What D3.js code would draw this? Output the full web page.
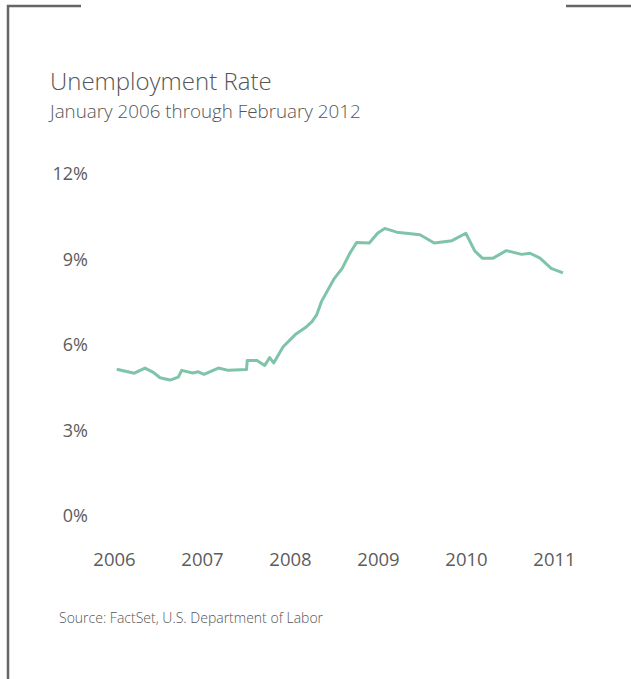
<!DOCTYPE html>
<html lang="en">
<head>
    <title>Unemployment Rate</title>
    <meta charset="UTF-8">
    <script src="https://d3js.org/d3.v7.min.js"></script>
    <style>
        body {
            margin: 0;
            padding: 0;
            background: #fff;
        }

        #chart text {
            font-family: "Open Sans", "Noto Sans", sans-serif;
            fill: #555;
        }
    </style>
</head>
<body>
<svg id="chart" width="631" height="679" xmlns="http://www.w3.org/2000/svg"></svg>
<script>
    // decimal year of each vertex of the line
    var dates = [
        2006.031, 2006.231, 2006.352, 2006.447, 2006.523, 2006.636, 2006.731, 2006.769,
        2006.894, 2006.958, 2007.023, 2007.185, 2007.299, 2007.506, 2007.514, 2007.625,
        2007.713, 2007.769, 2007.815, 2007.920, 2008.068, 2008.176, 2008.250, 2008.303,
        2008.360, 2008.498, 2008.593, 2008.682, 2008.758, 2008.901, 2008.998, 2009.076,
        2009.213, 2009.477, 2009.639, 2009.841, 2009.998, 2010.099, 2010.188, 2010.303,
        2010.458, 2010.633, 2010.727, 2010.841, 2010.968, 2011.102
    ];
    // unemployment rate, percent
    var rates = [
        5.15, 5.01, 5.19, 5.04, 4.85, 4.77, 4.87, 5.11,
        5.02, 5.06, 4.97, 5.19, 5.11, 5.14, 5.46, 5.46,
        5.28, 5.56, 5.37, 5.93, 6.39, 6.61, 6.82, 7.06,
        7.54, 8.31, 8.69, 9.23, 9.60, 9.58, 9.93, 10.09,
        9.96, 9.87, 9.58, 9.66, 9.92, 9.30, 9.04, 9.04,
        9.31, 9.18, 9.22, 9.05, 8.69, 8.53
    ];
    var yearTicks = [2006, 2007, 2008, 2009, 2010, 2011];
    var rateTicks = [0, 3, 6, 9, 12];

    (function () {
        var svg = d3.select('#chart');

        // frame: left rule plus the two short top rules
        var frame = svg.append('g')
            .attr('stroke', '#666')
            .attr('stroke-width', 2.5)
            .attr('fill', 'none');
        frame.append('path').attr('d', 'M81,6H8V679');
        frame.append('path').attr('d', 'M566,6H631');

        svg.append('text')
            .attr('x', 50)
            .attr('y', 90)
            .attr('font-size', '24px')
            .attr('font-weight', 300)
            .text('Unemployment Rate');
        svg.append('text')
            .attr('x', 50)
            .attr('y', 118)
            .attr('font-size', '18.8px')
            .attr('font-weight', 300)
            .text('January 2006 through February 2012');

        var x = d3.scaleLinear().domain([2006, 2011]).range([114, 554]);
        var y = d3.scaleLinear().domain([0, 12]).range([516, 174]);

        var yAxis = svg.append('g')
            .attr('transform', 'translate(88,0)')
            .call(d3.axisLeft(y).tickValues(rateTicks).tickSize(0).tickPadding(0)
                .tickFormat(function (d) { return d + '%'; }));
        yAxis.select('.domain').remove();
        yAxis.selectAll('text')
            .attr('font-size', '18px')
            .style('fill', '#5c5c5c');

        var xAxis = svg.append('g')
            .attr('transform', 'translate(0,553)')
            .call(d3.axisBottom(x).tickValues(yearTicks).tickSize(0).tickPadding(0)
                .tickFormat(d3.format('d')));
        xAxis.select('.domain').remove();
        xAxis.selectAll('text')
            .attr('font-size', '18.5px')
            .style('fill', '#5c5c5c');

        var line = d3.line()
            .x(function (d, i) { return x(dates[i]); })
            .y(function (d) { return y(d); });

        svg.append('path')
            .datum(rates)
            .attr('fill', 'none')
            .attr('stroke', '#7fc4a9')
            .attr('stroke-width', 3)
            .attr('stroke-linejoin', 'round')
            .attr('d', line);

        svg.append('text')
            .attr('x', 59)
            .attr('y', 623)
            .attr('font-size', '14px')
            .attr('font-weight', 300)
            .text('Source: FactSet, U.S. Department of Labor');
    })();
</script>
</body>
</html>
